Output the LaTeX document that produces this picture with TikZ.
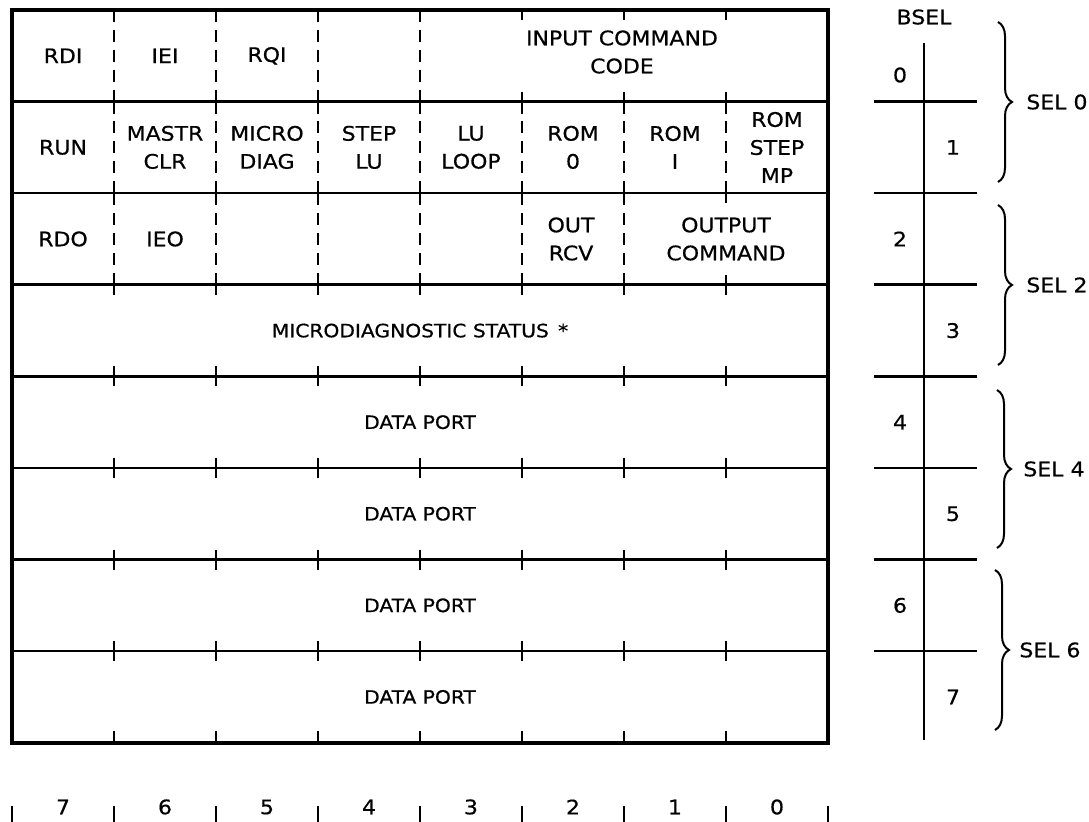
\documentclass[tikz,border=0pt]{standalone}
\usepackage{fontspec}
\setmainfont{DejaVu Sans}[FakeStretch=1.1, FakeBold=0.6]
\usepackage{tikz}
\usetikzlibrary{positioning, decorations.pathreplacing}
\tikzstyle{rahmen} = [line width=2.2pt]
\tikzstyle{linie} = [line width=1.3pt]
\tikzstyle{teil} = [line width=1.1pt, dash pattern=on 6pt off 3.95pt]
\tikzstyle{marke} = [line width=1.1pt]
\tikzstyle{feld} = [align=center, inner sep=0pt, font=\fontsize{10}{14}\selectfont]
\tikzstyle{port} = [align=center, inner sep=0pt, font=\fontsize{9.2}{12}\selectfont]
\tikzstyle{klammer} = [decorate, decoration={brace, amplitude=7pt}, line width=1pt]
\newcommand{\marken}[3]{
	\draw[marke] (114,#1-#2) -- (114,#1+#3) (216,#1-#2) -- (216,#1+#3) (318,#1-#2) -- (318,#1+#3) (420,#1-#2) -- (420,#1+#3) (522,#1-#2) -- (522,#1+#3) (624,#1-#2) -- (624,#1+#3) (726,#1-#2) -- (726,#1+#3);
}

\begin{document}
\begin{tikzpicture}[x=0.5pt, y=-0.5pt]

	\useasboundingbox (0,0) rectangle (1089,822);

	\draw[rahmen] (12,10) rectangle (828,742.8);
	\draw[linie] (12,101.6) -- (828,101.6);
	\draw[linie] (12,193.2) -- (828,193.2);
	\draw[linie] (12,284.8) -- (828,284.8);
	\draw[linie] (12,376.4) -- (828,376.4);
	\draw[linie] (12,468) -- (828,468);
	\draw[linie] (12,559.6) -- (828,559.6);
	\draw[linie] (12,651.2) -- (828,651.2);

	\marken{10}{0}{10}
	\marken{101.6}{10}{10}
	\marken{193.2}{10}{10}
	\marken{284.8}{10}{10}
	\marken{376.4}{10}{10}
	\marken{468}{10}{10}
	\marken{559.6}{10}{10}
	\marken{651.2}{10}{10}
	\marken{742.8}{12}{0}

	\draw[teil] (114,10) -- (114,101.6);
	\draw[teil] (216,10) -- (216,101.6);
	\draw[teil] (318,10) -- (318,101.6);
	\draw[teil] (420,10) -- (420,101.6);

	\draw[teil] (114,101.6) -- (114,193.2);
	\draw[teil] (216,101.6) -- (216,193.2);
	\draw[teil] (318,101.6) -- (318,193.2);
	\draw[teil] (420,101.6) -- (420,193.2);
	\draw[teil] (522,101.6) -- (522,193.2);
	\draw[teil] (624,101.6) -- (624,193.2);
	\draw[teil] (726,101.6) -- (726,193.2);

	\draw[teil] (114,193.2) -- (114,284.8);
	\draw[teil] (216,193.2) -- (216,284.8);
	\draw[teil] (318,193.2) -- (318,284.8);
	\draw[teil] (420,193.2) -- (420,284.8);
	\draw[teil] (522,193.2) -- (522,284.8);
	\draw[teil] (624,193.2) -- (624,284.8);

	\node[feld] (11) at (63,55.8) {RDI};
	\node[feld] (12) at (165,55.8) {IEI};
	\node[feld] (13) at (267,55.8) {RQI};
	\node[feld] (15) at (622,52) {INPUT COMMAND\\CODE};

	\node[feld] (21) at (63,147.4) {RUN};
	\node[feld] (22) at (165,147.4) {MASTR\\CLR};
	\node[feld] (23) at (267,147.4) {MICRO\\DIAG};
	\node[feld] (24) at (369,147.4) {STEP\\LU};
	\node[feld] (25) at (471,147.4) {LU\\LOOP};
	\node[feld] (26) at (573,147.4) {ROM\\0};
	\node[feld] (27) at (675,147.4) {ROM\\I};
	\node[feld] (28) at (777,147.4) {ROM\\STEP\\MP};

	\node[feld] (31) at (63,239) {RDO};
	\node[feld] (32) at (165,239) {IEO};
	\node[feld] (36) at (571,239) {OUT\\RCV};
	\node[feld] (37) at (726,239) {OUTPUT\\COMMAND};

	\node[port] (41) at (420,330.6) {MICRODIAGNOSTIC STATUS\enspace *};
	\node[port] (51) at (420,422.2) {DATA PORT};
	\node[port] (61) at (420,513.8) {DATA PORT};
	\node[port] (71) at (420,605.4) {DATA PORT};
	\node[port] (81) at (420,697) {DATA PORT};

	\coordinate (bo) at (924,43);
	\node[feld, above=9pt of bo] (bsel) {BSEL};
	\draw[linie] (bo) -- (924,740);
	\draw[linie] (874,101.6) -- (977,101.6);
	\draw[linie] (874,193.2) -- (977,193.2);
	\draw[linie] (874,284.8) -- (977,284.8);
	\draw[linie] (874,376.4) -- (977,376.4);
	\draw[linie] (874,468) -- (977,468);
	\draw[linie] (874,559.6) -- (977,559.6);
	\draw[linie] (874,651.2) -- (977,651.2);

	\node[feld] (b0) at (900,75) {0};
	\node[feld] (b1) at (953,147.4) {1};
	\node[feld] (b2) at (900,239) {2};
	\node[feld] (b3) at (953,330.6) {3};
	\node[feld] (b4) at (900,422.2) {4};
	\node[feld] (b5) at (953,513.8) {5};
	\node[feld] (b6) at (900,605.4) {6};
	\node[feld] (b7) at (953,697) {7};

	\draw[klammer] (998,22) -- (998,182);
	\draw[klammer] (998,205) -- (998,365);
	\draw[klammer] (997,390) -- (997,548);
	\draw[klammer] (995,570) -- (995,730);
	\coordinate (k1) at (1012,102);
	\coordinate (k2) at (1012,285);
	\coordinate (k3) at (1011,469);
	\coordinate (k4) at (1009,650);
	\node[feld, right=7pt of k1] (sel0) {SEL 0};
	\node[feld, right=7pt of k2] (sel2) {SEL 2};
	\node[feld, right=6pt of k3] (sel4) {SEL 4};
	\node[feld, right=5pt of k4] (sel6) {SEL 6};

	\draw[marke] (12,806) -- (12,822) (114,806) -- (114,822) (216,806) -- (216,822) (318,806) -- (318,822) (420,806) -- (420,822) (522,806) -- (522,822) (624,806) -- (624,822) (726,806) -- (726,822) (828,806) -- (828,822);
	\node[feld] (07) at (63,807) {7};
	\node[feld] (06) at (165,807) {6};
	\node[feld] (05) at (267,807) {5};
	\node[feld] (04) at (369,807) {4};
	\node[feld] (03) at (471,807) {3};
	\node[feld] (02) at (573,807) {2};
	\node[feld] (01) at (675,807) {1};
	\node[feld] (00) at (777,807) {0};

\end{tikzpicture}
\end{document}
